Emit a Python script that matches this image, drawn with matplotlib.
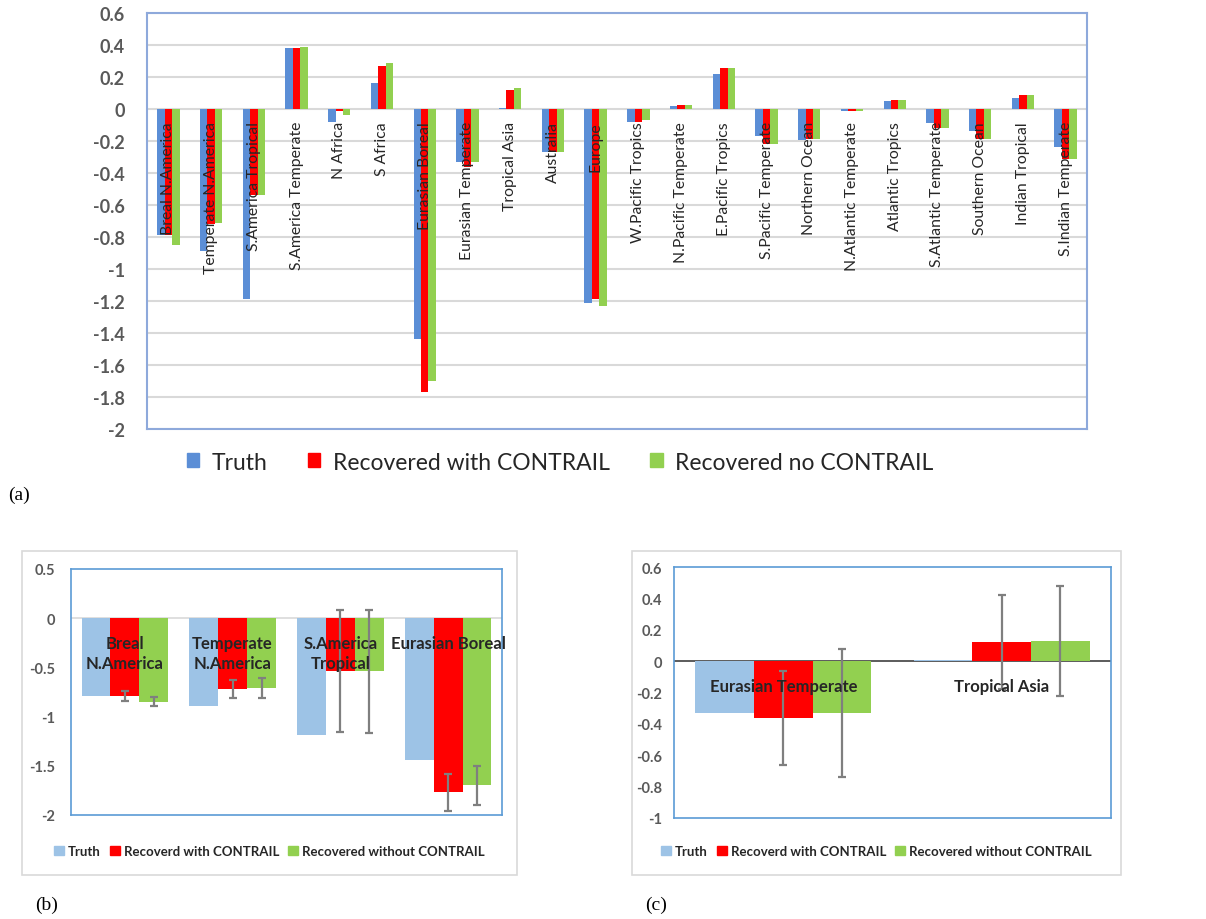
import matplotlib.pyplot as plt
import numpy as np
from matplotlib.patches import Rectangle, Patch

plt.rcParams['font.family'] = ['Lato', 'DejaVu Sans']

# Regional flux results (a)
regions = ['Breal N.America', 'Temperate N.America', 'S.America Tropical', 'S.America Temperate',
           'N Africa', 'S Africa', 'Eurasian Boreal', 'Eurasian Temperate', 'Tropical Asia',
           'Australia', 'Europe', 'W.Pacific Tropics', 'N.Pacific Temperate', 'E.Pacific Tropics',
           'S.Pacific Temperate', 'Northern Ocean', 'N.Atlantic Temperate', 'Atlantic Tropics',
           'S.Atlantic Temperate', 'Southern Ocean', 'Indian Tropical', 'S.Indian Temperate']
truth = [-0.79, -0.89, -1.19, 0.38, -0.08, 0.16, -1.44, -0.33, 0.005, -0.27, -1.21,
         -0.08, 0.02, 0.22, -0.17, -0.195, -0.01, 0.05, -0.09, -0.14, 0.07, -0.24]
rec_with = [-0.79, -0.72, -0.54, 0.38, -0.01, 0.27, -1.77, -0.36, 0.12, -0.27, -1.19,
            -0.08, 0.025, 0.255, -0.22, -0.19, -0.01, 0.055, -0.12, -0.19, 0.085, -0.31]
rec_no = [-0.85, -0.71, -0.54, 0.39, -0.035, 0.29, -1.70, -0.33, 0.13, -0.27, -1.23,
          -0.07, 0.025, 0.255, -0.22, -0.19, -0.01, 0.055, -0.12, -0.19, 0.085, -0.31]

# Panel (b): land regions with uncertainties
b_labels = ['Breal\nN.America', 'Temperate\nN.America', 'S.America\nTropical', 'Eurasian Boreal']
b_idx = [0, 1, 2, 6]
b_err_with = [0.05, 0.095, 0.62, 0.19]
b_err_no = [0.045, 0.10, 0.625, 0.20]

# Panel (c)
c_labels = ['Eurasian Temperate', 'Tropical Asia']
c_idx = [7, 8]
c_err_with = [0.30, 0.30]
c_err_no = [0.41, 0.35]

BLUE = '#5B8ED6'
LBLUE = '#9DC3E6'
RED = '#FF0000'
GREEN = '#92D050'
TICKC = '#595959'
TXT = '#262626'

W, H = 1206, 920
fig = plt.figure(figsize=(W / 100, H / 100), dpi=100)


def px_axes(x0, y0, x1, y1):
    return fig.add_axes([x0 / W, 1 - y1 / H, (x1 - x0) / W, (y1 - y0) / H])


def tick_text(vals):
    return ['{:g}'.format(round(v, 1) + 0.0) for v in vals]


# ---- (a) ----
ax = px_axes(147, 14, 1087, 430)
x = np.arange(len(regions))
bw = 0.175
ax.bar(x - bw, truth, bw, color=BLUE, zorder=3)
ax.bar(x, rec_with, bw, color=RED, zorder=3)
ax.bar(x + bw, rec_no, bw, color=GREEN, zorder=3)
ax.set_xlim(-0.5, len(regions) - 0.5)
ax.set_ylim(-2, 0.6)
yt = np.arange(-2, 0.61, 0.2)
ax.set_yticks(yt)
ax.set_yticklabels(tick_text(yt), fontsize=13, fontweight='bold', color=TICKC)
ax.tick_params(axis='y', length=0, pad=16)
ax.set_xticks([])
ax.grid(axis='y', color='#D9D9D9', lw=1.5, zorder=0)
for s in ax.spines.values():
    s.set_color('#8EA9DB')
    s.set_linewidth(1.5)
for i, name in enumerate(regions):
    ax.text(i, -0.075, name, rotation=90, ha='center', va='top', fontsize=11.3, color=TXT, zorder=4)

handles = [Patch(color=BLUE), Patch(color=RED), Patch(color=GREEN)]
fig.legend(handles, ['Truth', 'Recovered with CONTRAIL', 'Recovered no CONTRAIL'],
           loc='center', bbox_to_anchor=(560 / W, 1 - 463 / H), ncol=3, frameon=False,
           fontsize=16.5, handlelength=0.55, handleheight=0.55, handletextpad=0.55,
           columnspacing=1.75, labelcolor=TXT)
fig.text(8 / W, 1 - 495 / H, '(a)', family='Liberation Serif', fontsize=14, va='center')


# ---- (b) and (c) ----
def sub_panel(box, inner, idx, labels, err_with, err_no, ylim, yticks, pad, zcol, lab_y, lab_fs):
    fig.patches.append(Rectangle((box[0] / W, 1 - box[3] / H), (box[2] - box[0]) / W,
                                 (box[3] - box[1]) / H, transform=fig.transFigure,
                                 fill=False, ec='#D9D9D9', lw=1.2))
    a = px_axes(*inner)
    xs = np.arange(len(idx))
    w = 0.268
    t = [truth[i] for i in idx]
    rw = [rec_with[i] for i in idx]
    rn = [rec_no[i] for i in idx]
    ek = dict(ecolor='#7F7F7F', elinewidth=1.6, capsize=3, capthick=1.6)
    a.bar(xs - w, t, w, color=LBLUE, zorder=2)
    a.bar(xs, rw, w, color=RED, yerr=err_with, error_kw=ek, zorder=2)
    a.bar(xs + w, rn, w, color=GREEN, yerr=err_no, error_kw=ek, zorder=2)
    a.axhline(0, color=zcol, lw=1.2, zorder=1)
    a.set_xlim(-0.5, len(idx) - 0.5)
    a.set_ylim(*ylim)
    a.set_yticks(yticks)
    a.set_yticklabels(tick_text(yticks), fontsize=10.5, fontweight='bold', color=TICKC)
    a.tick_params(axis='y', length=0, pad=pad)
    a.set_xticks([])
    for s in a.spines.values():
        s.set_color('#5B9BD5')
        s.set_linewidth(1.2)
    for i, name in enumerate(labels):
        a.text(i, lab_y, name, ha='center', va='top', fontsize=lab_fs, fontweight='bold',
               color=TXT, linespacing=1.35, zorder=5)
    hs = [Patch(color=LBLUE), Patch(color=RED), Patch(color=GREEN)]
    fig.legend(hs, ['Truth', 'Recoverd with CONTRAIL', 'Recovered without CONTRAIL'],
               loc='center', bbox_to_anchor=((box[0] + box[2]) / 2 / W, 1 - 852 / H), ncol=3,
               frameon=False, prop={'weight': 'bold', 'size': 9.5},
               handlelength=0.75, handleheight=0.75, handletextpad=0.3, columnspacing=0.7,
               labelcolor=TXT)
    return a


sub_panel((22, 552, 517, 876), (71, 570, 502, 816), b_idx, b_labels, b_err_with, b_err_no,
          (-2, 0.5), np.arange(-2, 0.51, 0.5), 11.5, '#D9D9D9', -0.17, 12)
sub_panel((632, 552, 1121, 876), (674, 568, 1111, 819), c_idx, c_labels, c_err_with, c_err_no,
          (-1, 0.6), np.arange(-1, 0.61, 0.2), 8.5, '#404040', -0.105, 12)

fig.text(35 / W, 1 - 905 / H, '(b)', family='Liberation Serif', fontsize=14, va='center')
fig.text(645 / W, 1 - 905 / H, '(c)', family='Liberation Serif', fontsize=14, va='center')

fig.savefig('out.png', dpi=100)
